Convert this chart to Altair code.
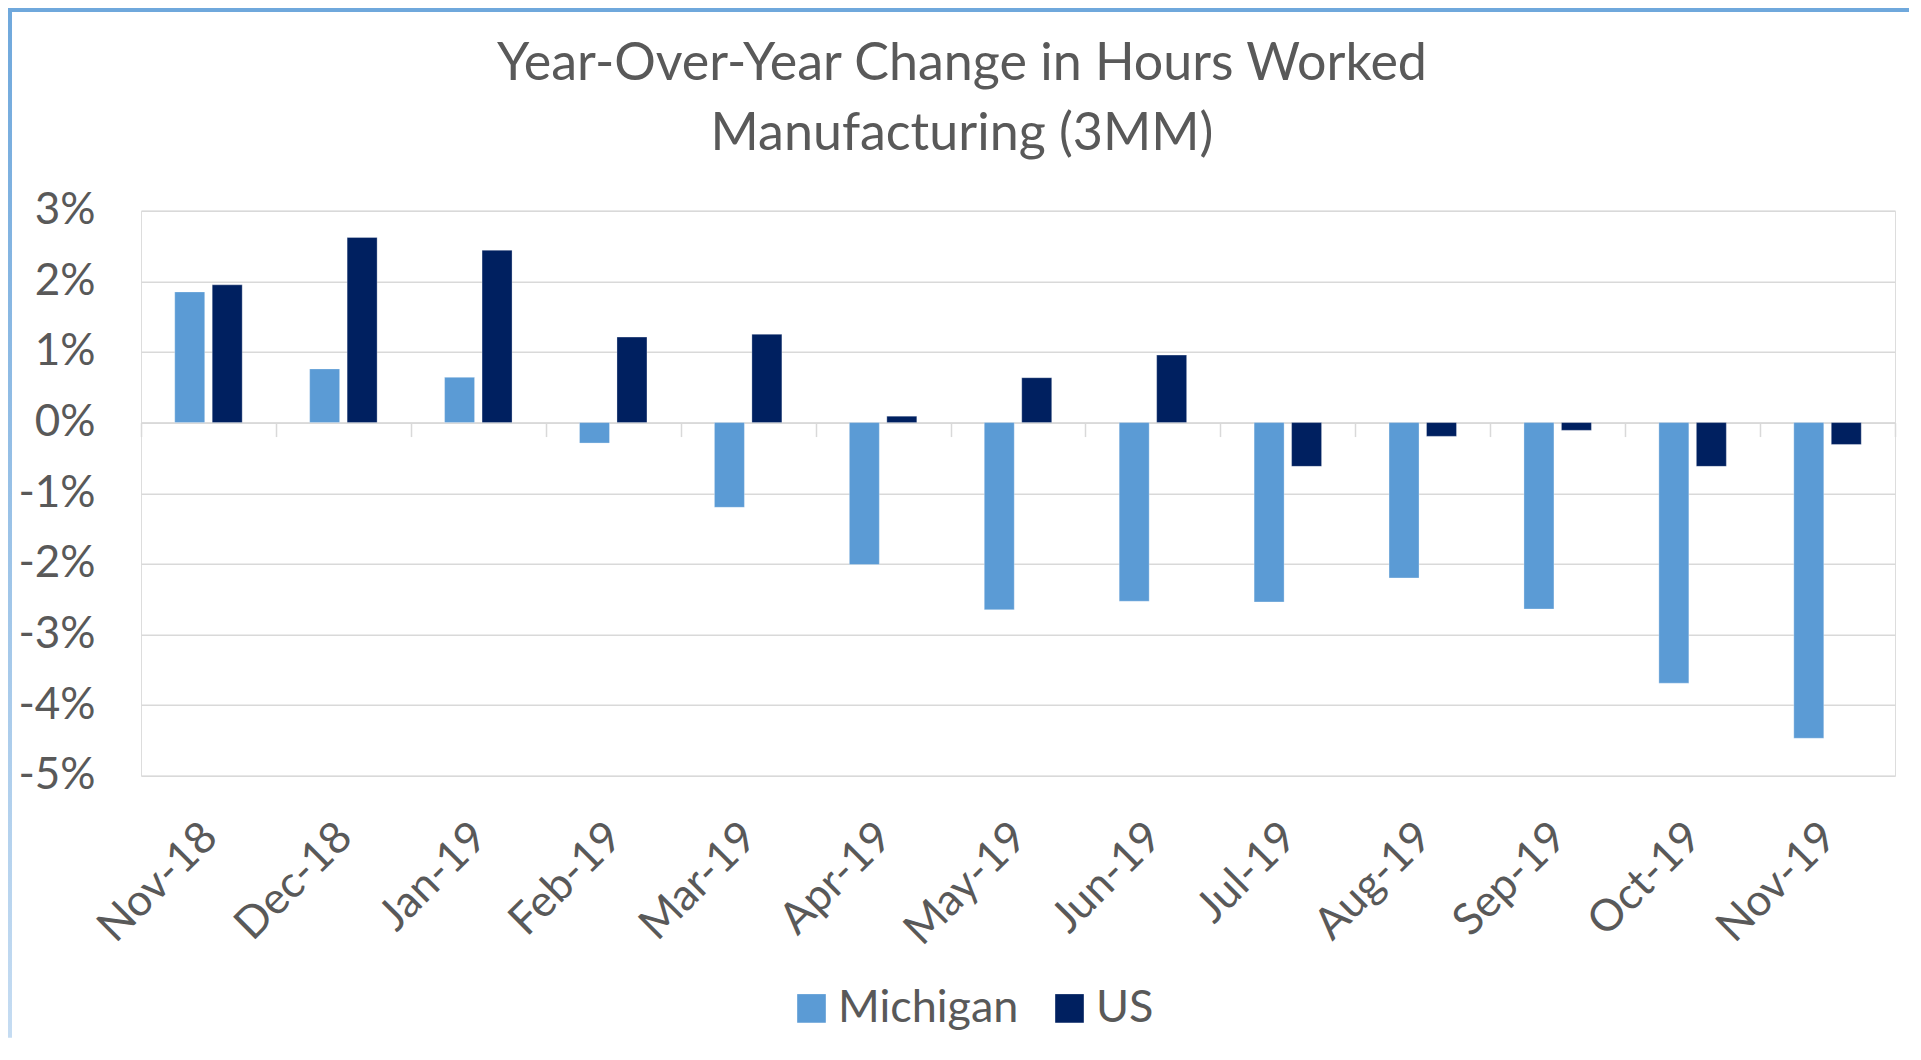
import altair as alt
import pandas as pd

months = ["Nov-18", "Dec-18", "Jan-19", "Feb-19", "Mar-19", "Apr-19", "May-19",
          "Jun-19", "Jul-19", "Aug-19", "Sep-19", "Oct-19", "Nov-19"]
michigan = [1.85, 0.76, 0.64, -0.29, -1.20, -2.01, -2.65, -2.53, -2.54, -2.20, -2.64, -3.69, -4.47]
us = [1.95, 2.62, 2.44, 1.21, 1.25, 0.09, 0.635, 0.955, -0.62, -0.195, -0.11, -0.62, -0.31]
series = ["Michigan", "US"]
colors = ["#5b9bd5", "#002060"]
y_ticks = [-5, -4, -3, -2, -1, 0, 1, 2, 3]

rows = []
for m, a, b in zip(months, michigan, us):
    rows.append({"month": m, "series": "Michigan", "value": a})
    rows.append({"month": m, "series": "US", "value": b})
df = pd.DataFrame(rows)

W, H = 1754, 565
PAD_L, PAD_T, PAD_R, PAD_B = 133, 202.7, 14, 262
FONT = "Lato"
GREY = "#595959"
GRID = "#d9d9d9"
zero_offset = -H * 5 / 8

bars = alt.Chart(df).mark_bar(stroke="white", strokeWidth=0.6, strokeOpacity=0.5).encode(
    x=alt.X("month:N", sort=months,
            scale=alt.Scale(paddingInner=0, paddingOuter=0),
            axis=alt.Axis(title=None, orient="bottom", offset=zero_offset,
                          domain=True, domainColor=GRID, domainWidth=1.5,
                          ticks=True, tickBand="extent", tickSize=14,
                          tickColor=GRID, tickWidth=1.5,
                          labelAngle=-45, labelAlign="right", labelBaseline="top",
                          labelPadding=378, labelOffset=-14,
                          labelFont=FONT, labelFontSize=44,
                          labelColor=GREY, grid=False)),
    xOffset=alt.XOffset("series:N", sort=series,
                        scale=alt.Scale(paddingInner=0.2, paddingOuter=0.9)),
    y=alt.Y("value:Q",
            scale=alt.Scale(domain=[-5, 3], nice=False, zero=False),
            axis=alt.Axis(title=None, values=y_ticks, labelExpr="datum.value + '%'",
                          domain=False, ticks=False, grid=True, gridColor=GRID,
                          gridWidth=1.5, labelFont=FONT, labelFontSize=44,
                          labelColor=GREY, labelPadding=46)),
    color=alt.Color("series:N", sort=series,
                    scale=alt.Scale(domain=series, range=colors),
                    legend=alt.Legend(title=None, orient="none", direction="horizontal",
                                      legendX=648, legendY=775,
                                      symbolType="square", symbolSize=820,
                                      symbolStrokeWidth=0, labelLimit=500,
                                      labelFont=FONT, labelFontSize=45, labelColor=GREY,
                                      labelOffset=4, columnPadding=28)),
)

top_border = alt.Chart(pd.DataFrame({"k": [0]})).mark_rule(
    color="#6fa8dc", strokeWidth=4).encode(
    x=alt.value(-PAD_L), x2=alt.value(W + PAD_R), y=alt.value(-PAD_T + 2))

left_border = alt.Chart(pd.DataFrame({"k": [0]})).mark_rect(
    color=alt.Gradient(gradient="linear",
                       stops=[alt.GradientStop(color="#6fa8dc", offset=0),
                              alt.GradientStop(color="#c5dcf2", offset=1)],
                       x1=0, x2=0, y1=0, y2=1)).encode(
    x=alt.value(-PAD_L), x2=alt.value(-PAD_L + 4), y=alt.value(-PAD_T), y2=alt.value(H + PAD_B))

chart = alt.layer(bars, top_border, left_border).properties(
    width=W, height=H,
    title=alt.TitleParams(
        text=["Year-Over-Year Change in Hours Worked", "Manufacturing (3MM)"],
        font=FONT, fontSize=52, fontWeight="normal", color=GREY,
        anchor="middle", dx=-56, offset=-152.9, lineHeight=70),
    autosize=alt.AutoSizeParams(type="none"),
    padding={"left": PAD_L, "top": PAD_T, "right": PAD_R, "bottom": PAD_B},
).configure_view(stroke=None).configure(background="white")

chart.save("out.html", embed_options={"renderer": "svg", "actions": False})
